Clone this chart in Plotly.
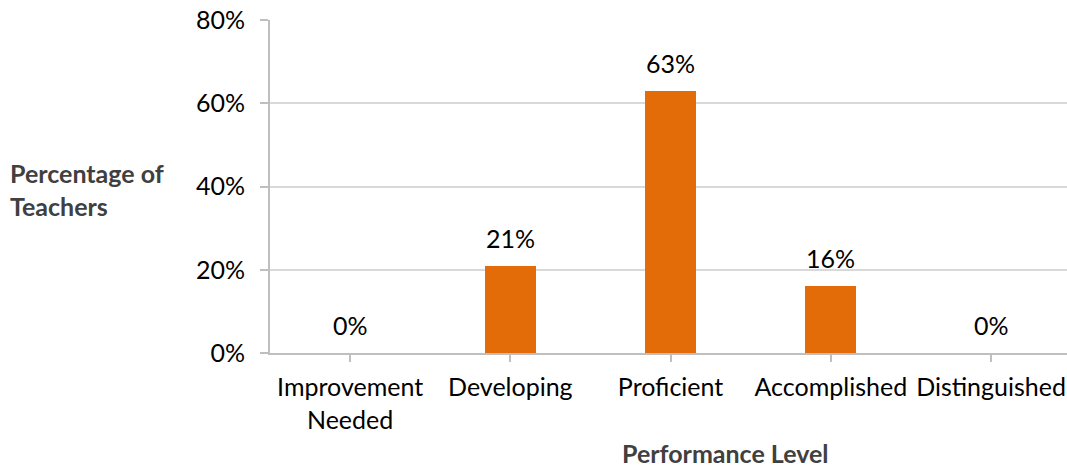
import plotly.graph_objects as go

categories = ["Improvement<br>Needed", "Developing", "Proficient", "Accomplished", "Distinguished"]
percent_values = [0, 21, 63, 16, 0]
y_tick_values = [0, 20, 40, 60, 80]
y_tick_labels = ["0%", "20%", "40%", "60%", "80%"]

FONT = "Lato, 'Open Sans', sans-serif"
BAR_COLOR = "#e36c09"
SIZE = 25

fig = go.Figure(
    go.Bar(
        x=list(range(len(categories))),
        y=percent_values,
        marker=dict(color=BAR_COLOR, line=dict(width=0)),
        width=0.32,
        hoverinfo="skip",
    )
)

# value labels above each bar
for i, v in enumerate(percent_values):
    fig.add_annotation(
        x=i, y=v, text=f"{v}%", showarrow=False,
        yanchor="bottom", yshift=11,
        font=dict(family=FONT, size=SIZE, color="#000000"),
    )

# y-axis title (two lines, left aligned)
fig.add_annotation(
    xref="paper", yref="paper", x=-0.329, y=0.49, xanchor="left", yanchor="middle",
    text="<b>Percentage of<br>Teachers</b>", align="left", showarrow=False,
    font=dict(family=FONT, size=SIZE, color="#404040"),
)

# x-axis title
fig.add_annotation(
    xref="paper", yref="paper", x=0.572, y=-0.30, xanchor="center", yanchor="middle",
    text="<b>Performance Level</b>", showarrow=False, borderpad=0,
    font=dict(family=FONT, size=SIZE, color="#404040"),
)

fig.update_layout(
    width=1067, height=468,
    margin=dict(l=270, r=0, t=20, b=115),
    paper_bgcolor="white", plot_bgcolor="white",
    showlegend=False,
    bargap=0,
    font=dict(family=FONT, size=SIZE, color="#000000"),
    xaxis=dict(
        range=[-0.5, 4.474],
        tickmode="array",
        tickvals=list(range(len(categories))),
        ticktext=categories,
        showgrid=False,
        showline=True, linecolor="#bfbfbf", linewidth=2,
        ticks="outside", ticklen=7, tickwidth=2, tickcolor="#bfbfbf",
        tickfont=dict(family=FONT, size=SIZE, color="#000000"),
        ticklabelstandoff=4,
        zeroline=False,
    ),
    yaxis=dict(
        range=[0, 80],
        tickmode="array",
        tickvals=y_tick_values,
        ticktext=y_tick_labels,
        showgrid=True, gridcolor="#d9d9d9", gridwidth=2,
        showline=True, linecolor="#bfbfbf", linewidth=2,
        ticks="outside", ticklen=8, tickwidth=2, tickcolor="#bfbfbf",
        tickfont=dict(family=FONT, size=SIZE, color="#000000"),
        ticklabelstandoff=10,
        zeroline=False,
    ),
)

fig.write_html("out.html")
